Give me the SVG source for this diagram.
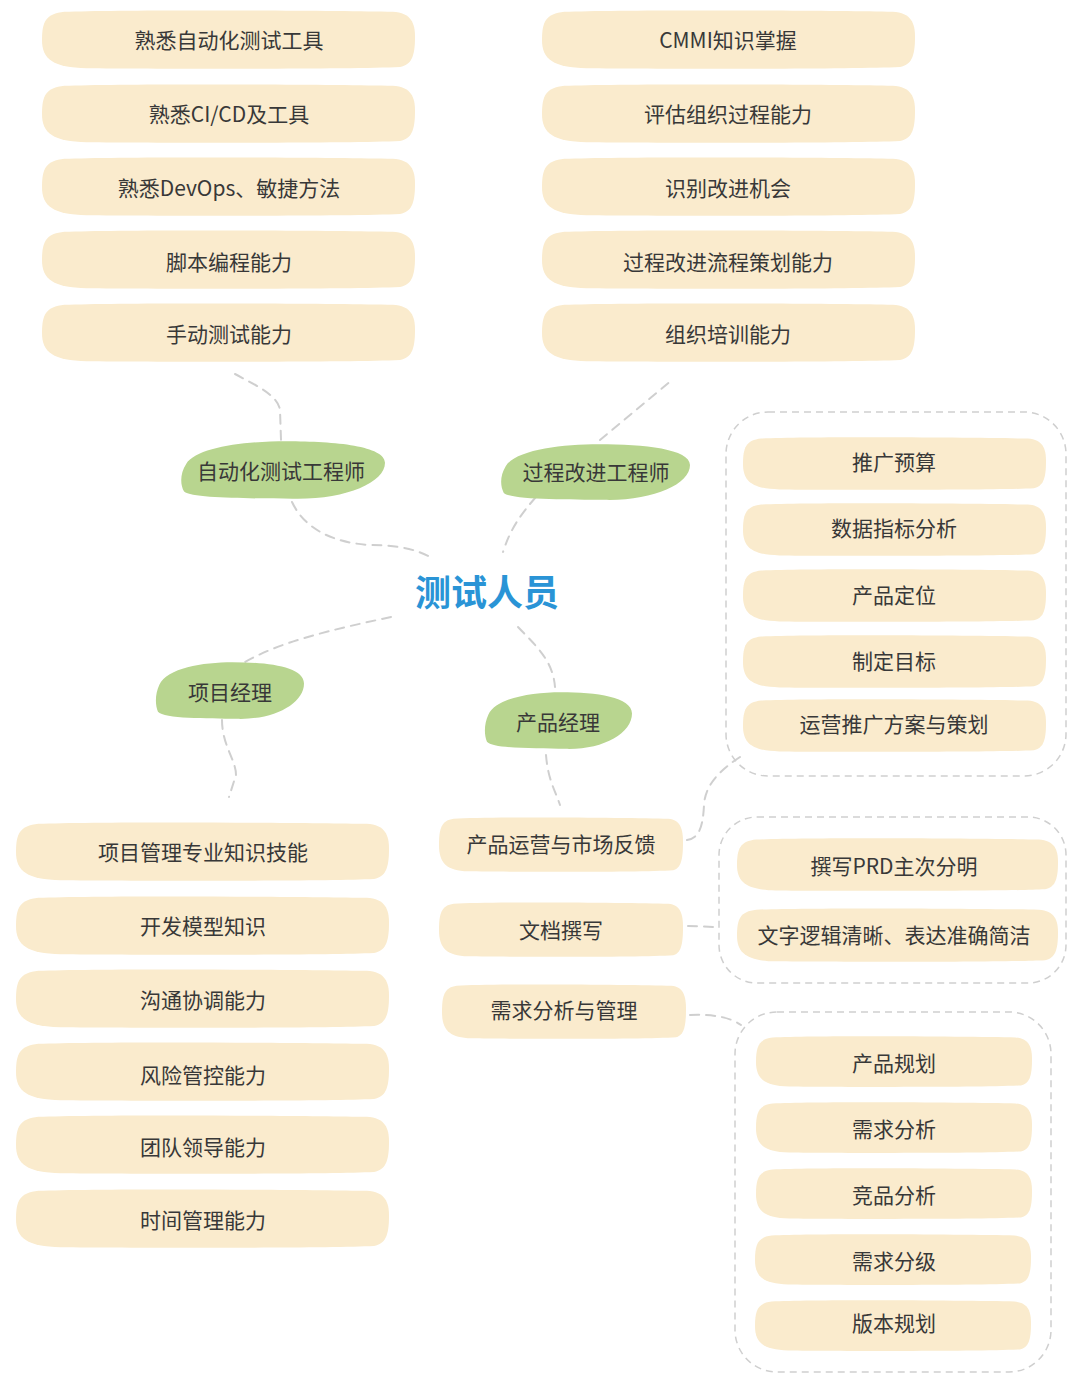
<svg xmlns="http://www.w3.org/2000/svg" xmlns:xlink="http://www.w3.org/1999/xlink" width="1068" height="1375" viewBox="0 0 1068 1375">
<style>
.leaf{fill:#faebcd}
.blob{fill:#b8d58f}
.t{font-family:"Noto Sans CJK SC","Noto Sans",sans-serif;font-size:21px;fill:#383838;text-anchor:middle;dominant-baseline:central;transform:translateY(-1px)}
.c{font-family:"Noto Sans CJK SC","Noto Sans",sans-serif;font-size:36px;font-weight:bold;fill:#2a94d6;text-anchor:middle;dominant-baseline:central;transform:translateY(-1px)}
.ln{fill:none;stroke:#cfcfcf;stroke-width:2;stroke-dasharray:9 7;stroke-linecap:round}
.box{fill:none;stroke:#cfcfcf;stroke-width:1.5;stroke-dasharray:7 5}
</style>
<defs>
<path id="leaf" d="M6,3 C22,-1 78,1 94,3 C99,5 100,22 100,45 C100,78 99,91 96,95 C82,99 30,98 12,97 C3,96 0,82 0,50 C0,20 1,6 6,3 Z"/>
<path id="gb" d="M3,40 C8,12 32,2 52,2 C76,2 100,10 100,38 C100,72 80,100 55,98 C35,97 6,98 2,86 C0,74 0,56 3,40 Z"/>
</defs>
<g id="connectors">
<path class="ln" d="M235,374 C255,385 278,395 280,410 L281,440"/>
<path class="ln" d="M292,502 C305,530 335,543 370,545 C400,545 418,550 432,558"/>
<path class="ln" d="M600,440 L672,380"/>
<path class="ln" d="M536,497 C520,515 510,530 503,552"/>
<path class="ln" d="M391,617 C330,630 280,642 245,662"/>
<path class="ln" d="M222,720 C222,745 236,760 236,775 L229,797"/>
<path class="ln" d="M518,627 C535,645 553,660 555,687"/>
<path class="ln" d="M546,755 C548,780 555,790 560,805"/>
<path class="ln" d="M687,840 C700,838 703,825 704,805 C705,785 720,770 740,757"/>
<path class="ln" d="M688,926 L716,927"/>
<path class="ln" d="M690,1015 C712,1014 730,1017 741,1025"/>
</g>
<g id="groups">
<rect class="box" x="726" y="412" width="340" height="364" rx="42"/>
<rect class="box" x="719" y="817" width="347" height="166" rx="38"/>
<rect class="box" x="735" y="1012" width="316" height="360" rx="42"/>
</g>
<g id="center"><text class="c" x="487" y="591">测试人员</text></g>
<g id="n-auto"><use href="#gb" class="blob" transform="translate(180,440) scale(2.05,0.6)"/><text class="t" x="281" y="471">自动化测试工程师</text></g>
<g id="n-proc"><use href="#gb" class="blob" transform="translate(500,443) scale(1.9,0.58)"/><text class="t" x="596" y="472">过程改进工程师</text></g>
<g id="n-pm"><use href="#gb" class="blob" transform="translate(155,661) scale(1.49,0.59)"/><text class="t" x="230" y="692">项目经理</text></g>
<g id="n-prod"><use href="#gb" class="blob" transform="translate(484,691) scale(1.48,0.59)"/><text class="t" x="558" y="722">产品经理</text></g>

<g id="a1"><use href="#leaf" class="leaf" transform="translate(42,10) scale(3.73,0.6)"/><text class="t" x="229" y="40">熟悉自动化测试工具</text></g>
<g id="a2"><use href="#leaf" class="leaf" transform="translate(42,84) scale(3.73,0.6)"/><text class="t" x="229" y="114">熟悉CI/CD及工具</text></g>
<g id="a3"><use href="#leaf" class="leaf" transform="translate(42,157) scale(3.73,0.6)"/><text class="t" x="229" y="188">熟悉DevOps、敏捷方法</text></g>
<g id="a4"><use href="#leaf" class="leaf" transform="translate(42,230) scale(3.73,0.6)"/><text class="t" x="229" y="262">脚本编程能力</text></g>
<g id="a5"><use href="#leaf" class="leaf" transform="translate(42,303) scale(3.73,0.6)"/><text class="t" x="229" y="334">手动测试能力</text></g>

<g id="p1"><use href="#leaf" class="leaf" transform="translate(542,10) scale(3.73,0.6)"/><text class="t" x="728" y="40">CMMI知识掌握</text></g>
<g id="p2"><use href="#leaf" class="leaf" transform="translate(542,84) scale(3.73,0.6)"/><text class="t" x="728" y="114">评估组织过程能力</text></g>
<g id="p3"><use href="#leaf" class="leaf" transform="translate(542,157) scale(3.73,0.6)"/><text class="t" x="728" y="188">识别改进机会</text></g>
<g id="p4"><use href="#leaf" class="leaf" transform="translate(542,230) scale(3.73,0.6)"/><text class="t" x="728" y="262">过程改进流程策划能力</text></g>
<g id="p5"><use href="#leaf" class="leaf" transform="translate(542,303) scale(3.73,0.6)"/><text class="t" x="728" y="334">组织培训能力</text></g>

<g id="m1"><use href="#leaf" class="leaf" transform="translate(16,822) scale(3.73,0.6)"/><text class="t" x="203" y="852">项目管理专业知识技能</text></g>
<g id="m2"><use href="#leaf" class="leaf" transform="translate(16,896) scale(3.73,0.6)"/><text class="t" x="203" y="926">开发模型知识</text></g>
<g id="m3"><use href="#leaf" class="leaf" transform="translate(16,969) scale(3.73,0.6)"/><text class="t" x="203" y="1000">沟通协调能力</text></g>
<g id="m4"><use href="#leaf" class="leaf" transform="translate(16,1042) scale(3.73,0.6)"/><text class="t" x="203" y="1075">风险管控能力</text></g>
<g id="m5"><use href="#leaf" class="leaf" transform="translate(16,1115) scale(3.73,0.6)"/><text class="t" x="203" y="1147">团队领导能力</text></g>
<g id="m6"><use href="#leaf" class="leaf" transform="translate(16,1189) scale(3.73,0.6)"/><text class="t" x="203" y="1220">时间管理能力</text></g>

<g id="d1"><use href="#leaf" class="leaf" transform="translate(439,817) scale(2.44,0.56)"/><text class="t" x="561" y="844">产品运营与市场反馈</text></g>
<g id="d2"><use href="#leaf" class="leaf" transform="translate(439,902) scale(2.44,0.56)"/><text class="t" x="561" y="930">文档撰写</text></g>
<g id="d3"><use href="#leaf" class="leaf" transform="translate(442,984) scale(2.44,0.56)"/><text class="t" x="564" y="1010">需求分析与管理</text></g>

<g id="o1"><use href="#leaf" class="leaf" transform="translate(743,437) scale(3.03,0.54)"/><text class="t" x="894" y="462">推广预算</text></g>
<g id="o2"><use href="#leaf" class="leaf" transform="translate(743,503) scale(3.03,0.54)"/><text class="t" x="894" y="528">数据指标分析</text></g>
<g id="o3"><use href="#leaf" class="leaf" transform="translate(743,569) scale(3.03,0.54)"/><text class="t" x="894" y="595">产品定位</text></g>
<g id="o4"><use href="#leaf" class="leaf" transform="translate(743,635) scale(3.03,0.54)"/><text class="t" x="894" y="661">制定目标</text></g>
<g id="o5"><use href="#leaf" class="leaf" transform="translate(743,699) scale(3.03,0.54)"/><text class="t" x="894" y="724">运营推广方案与策划</text></g>

<g id="w1"><use href="#leaf" class="leaf" transform="translate(737,838) scale(3.21,0.54)"/><text class="t" x="894" y="866">撰写PRD主次分明</text></g>
<g id="w2"><use href="#leaf" class="leaf" transform="translate(737,908) scale(3.21,0.55)"/><text class="t" x="894" y="935">文字逻辑清晰、表达准确简洁</text></g>

<g id="r1"><use href="#leaf" class="leaf" transform="translate(756,1036) scale(2.76,0.52)"/><text class="t" x="894" y="1063">产品规划</text></g>
<g id="r2"><use href="#leaf" class="leaf" transform="translate(756,1102) scale(2.76,0.52)"/><text class="t" x="894" y="1129">需求分析</text></g>
<g id="r3"><use href="#leaf" class="leaf" transform="translate(756,1168) scale(2.76,0.52)"/><text class="t" x="894" y="1195">竞品分析</text></g>
<g id="r4"><use href="#leaf" class="leaf" transform="translate(755,1234) scale(2.76,0.52)"/><text class="t" x="894" y="1261">需求分级</text></g>
<g id="r5"><use href="#leaf" class="leaf" transform="translate(755,1300) scale(2.76,0.52)"/><text class="t" x="894" y="1323">版本规划</text></g>
</svg>
